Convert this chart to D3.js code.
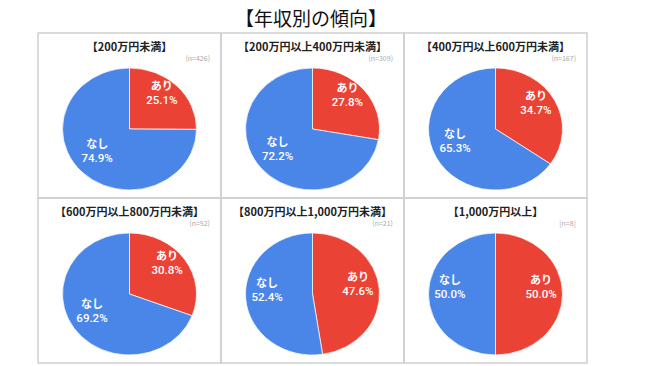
<!DOCTYPE html>
<html>
<head>
<meta charset="utf-8">
<script src="https://cdn.jsdelivr.net/npm/d3@7"></script>
<style>
  body { margin: 0; background: #fff; }
  text { font-family: "Noto Sans CJK JP", "Noto Sans", sans-serif; }
</style>
</head>
<body>
<div class="chart"></div>
<script>
// data
const mainTitle = "【年収別の傾向】";
const groups = ["【200万円未満】", "【200万円以上400万円未満】", "【400万円以上600万円未満】",
                "【600万円以上800万円未満】", "【800万円以上1,000万円未満】", "【1,000万円以上】"];
const nLabels = ["(n=426)", "(n=309)", "(n=167)", "(n=52)", "(n=21)", "[n=8]"];
const categories = ["あり", "なし"];
const ariValues = [25.1, 27.8, 34.7, 30.8, 47.6, 50.0];
const nashiValues = [74.9, 72.2, 65.3, 69.2, 52.4, 50.0];
const colors = ["#EA4335", "#4A86E8"];

const WIDTH = 650, HEIGHT = 366;

const svg = d3.select(".chart").append("svg")
  .attr("width", WIDTH)
  .attr("height", HEIGHT);

// title
svg.append("text")
  .attr("x", 311)
  .attr("y", 26)
  .attr("text-anchor", "middle")
  .attr("font-size", 19)
  .attr("fill", "#111")
  .text(mainTitle);

// grid of panels
const col = d3.scaleBand().domain([0, 1, 2]).range([38, 587]);
const row = d3.scaleBand().domain([0, 1]).range([33, 363]);

const color = d3.scaleOrdinal().domain(categories).range(colors);
const pie = d3.pie().sort(null).value(d => d.value);

const RX = 67, RY = 61;
const arc = d3.arc().innerRadius(0).outerRadius(RY);
const labelArc = d3.arc().innerRadius(RY * 0.68).outerRadius(RY * 0.68);

groups.forEach((g, i) => {
  const c = i % 3, r = Math.floor(i / 3);
  const x0 = col(c), y0 = row(r);
  const w = col.bandwidth(), h = row.bandwidth();

  const panel = svg.append("g").attr("transform", `translate(${x0},${y0})`);

  panel.append("rect")
    .attr("width", w)
    .attr("height", h)
    .attr("fill", "none")
    .attr("stroke", "#cfcfcf")
    .attr("stroke-width", 1.5);

  panel.append("text")
    .attr("x", w / 2)
    .attr("y", 18)
    .attr("text-anchor", "middle")
    .attr("font-size", 11)
    .attr("font-weight", "bold")
    .attr("fill", "#222")
    .text(g);

  panel.append("text")
    .attr("x", w - 11)
    .attr("y", 28)
    .attr("text-anchor", "end")
    .attr("font-size", 7)
    .attr("fill", "#aaa")
    .text(nLabels[i]);

  const data = [
    { name: categories[0], value: ariValues[i] },
    { name: categories[1], value: nashiValues[i] }
  ];
  const arcs = pie(data);

  // pies in the picture are slightly stretched sideways
  const cx = w / 2, cy = 96;
  panel.append("g")
    .attr("transform", `translate(${cx},${cy}) scale(${RX / RY},1)`)
    .selectAll("path")
    .data(arcs)
    .enter().append("path")
    .attr("d", arc)
    .attr("fill", d => color(d.data.name))
    .attr("stroke", "#fff")
    .attr("stroke-width", 0.7)
    .attr("vector-effect", "non-scaling-stroke");

  // two-line slice labels: name, then percent
  const labels = panel.append("g")
    .selectAll("text")
    .data(arcs)
    .enter().append("text")
    .attr("transform", d => {
      const p = labelArc.centroid(d);
      return `translate(${cx + p[0] * RX / RY},${cy + p[1] - 7})`;
    })
    .attr("text-anchor", "middle")
    .attr("fill", "#fff")
    .attr("font-size", 11);

  labels.append("tspan")
    .attr("x", 0)
    .attr("y", -3)
    .attr("font-weight", "bold")
    .text(d => d.data.name);

  labels.append("tspan")
    .attr("x", 0)
    .attr("y", 11)
    .attr("font-family", "Roboto, Liberation Sans, sans-serif")
    .attr("font-weight", 500)
    .attr("font-size", 11.5)
    .text(d => d.data.value.toFixed(1) + "%");
});
</script>
</body>
</html>
